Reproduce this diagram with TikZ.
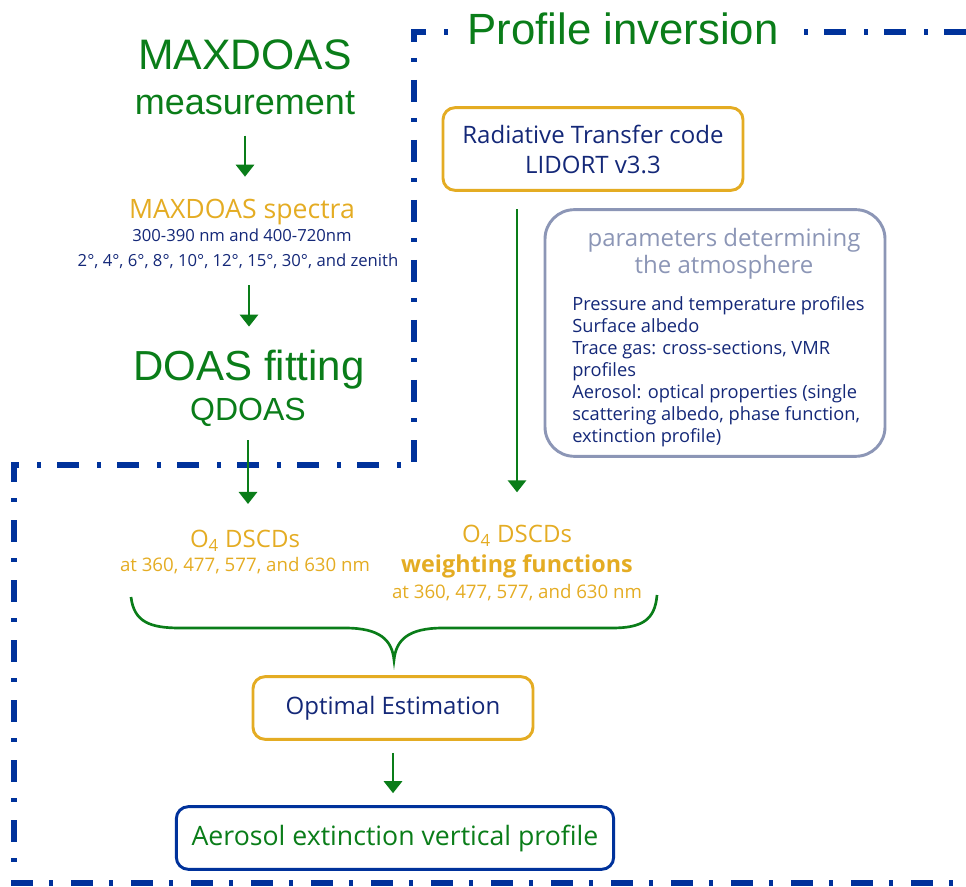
\documentclass[tikz,border=0pt]{standalone}
\usepackage{fontspec}
\setmainfont{Open Sans}
\newfontfamily\headfont{Liberation Sans}
\usepackage{tikz}
\usetikzlibrary{arrows.meta,positioning,calc}
\definecolor{InvGreen}{RGB}{10,125,25}
\definecolor{InvOrange}{RGB}{228,172,35}
\definecolor{InvNavy}{RGB}{20,40,120}
\definecolor{InvBlue}{RGB}{0,50,155}
\definecolor{InvGrey}{RGB}{140,150,182}

\begin{document}
\begin{tikzpicture}[x=0.75pt,y=-0.75pt,
    head/.style={font=\headfont\fontsize{#1}{#1}\selectfont, text=InvGreen, inner sep=0pt, anchor=base},
    comic/.style={font=\fontsize{#1}{#1}\selectfont, inner sep=0pt, anchor=base},
    box/.style={draw=InvOrange, line width=2.2pt, rounded corners=9pt, fill=white, align=center, text=InvNavy, font=\fontsize{18}{22.5}\selectfont},
    flow/.style={-{Triangle[width=13.5pt,length=9pt]}, line width=2.2pt, draw=InvGreen},
    invframe/.style={draw=InvBlue, line width=4.2pt, dash pattern=on 16.5pt off 12pt on 3pt off 13.5pt}
  ]
  \useasboundingbox (0,0) rectangle (966,887);
  % frame of the inversion part
  \draw[invframe] (966,32) -- (414,32) -- (414,465) -- (14,465) -- (14,883) -- (966,883);
  \node[head=32.8, fill=white, inner xsep=8pt] (title) at (623,45) {Profile inversion};

  % measurement column
  \node[head=32] (maxdoas) at (245,70) {MAXDOAS};
  \node[head=27] (meas) at (245,115) {measurement};
  \node[comic=20, text=InvOrange] (spectra) at (242,219) {MAXDOAS spectra};
  \node[comic=12.5, text=InvNavy] (bands) at (242,242) {300-390 nm and 400-720nm};
  \node[comic=12.5, text=InvNavy] (angles) at (238,267) {2°, 4°, 6°, 8°, 10°, 12°, 15°, 30°, and zenith};
  \node[head=31.5] (doasfit) at (249,380) {DOAS fitting};
  \node[head=24] (qdoas) at (248,420) {QDOAS};

  % forward model
  \node[box, minimum width=225pt, minimum height=62pt] (rtc) at (593,149) {Radiative Transfer code\\LIDORT v3.3};
  \node[draw=InvGrey, line width=2.2pt, rounded corners=22pt, minimum width=255pt, minimum height=185pt] (params) at (715,333) {};
  \node[align=center, text=InvGrey, font=\fontsize{18}{20}\selectfont, anchor=north, inner sep=0pt] (paramhead) at (724,228) {parameters determining\\the atmosphere};
  \node[align=left, text=InvNavy, font=\fontsize{13.7}{16.5}\selectfont, anchor=north west, inner sep=0pt] (paramlist) at (572,296) {Pressure and temperature profiles\\Surface albedo\\Trace gas: cross-sections, VMR\\profiles\\Aerosol: optical properties (single\\scattering albedo, phase function,\\extinction profile)};

  % inputs of the retrieval
  \node[comic=18, text=InvOrange] (dscd) at (245,547) {O\textsubscript{4} DSCDs};
  \node[comic=14, text=InvOrange] (dscdwl) at (245,571) {at 360, 477, 577, and 630 nm};
  \node[comic=18, text=InvOrange] (wfhead) at (517,542) {O\textsubscript{4} DSCDs};
  \node[comic=17.5, text=InvOrange] (wf) at (517,572) {\bfseries weighting functions};
  \node[comic=14, text=InvOrange] (wfwl) at (517,598) {at 360, 477, 577, and 630 nm};

  \node[box, minimum width=210pt, minimum height=47pt] (oe) at (393,708) {Optimal Estimation};
  \node[box, draw=InvBlue, text=InvGreen, font=\fontsize{20}{24}\selectfont, minimum width=328pt, minimum height=47pt] (aero) at (395,838) {Aerosol extinction vertical profile};

  \draw[flow, shorten <=15pt, shorten >=17pt] (meas.south) -- (meas.south |- spectra.north);
  \draw[flow, shorten <=12pt, shorten >=17pt] (angles.south -| doasfit) -- (doasfit.north);
  \draw[flow, shorten <=10.5pt, shorten >=19pt] (qdoas.south) -- (qdoas.south |- dscd.north);
  \draw[flow, shorten <=13pt, shorten >=24pt] (rtc.south -| wfhead) -- (wfhead.north);
  \draw[flow, shorten <=9pt, shorten >=9pt] (oe.south) -- (oe.south |- aero.north);

  % brace joining both inputs
  \coordinate (braceL) at (131,597);
  \coordinate (braceTip) at (394,660);
  \coordinate (braceR) at (657,595);
  \draw[InvGreen, line width=2pt] (braceL) .. controls (134,622) and (150,628) .. (180,628) -- (345,628)
    .. controls (380,628) and (392,640) .. (braceTip) .. controls (396,640) and (408,628) .. (443,628)
    -- (612,628) .. controls (642,628) and (655,620) .. (braceR);
\end{tikzpicture}
\end{document}
